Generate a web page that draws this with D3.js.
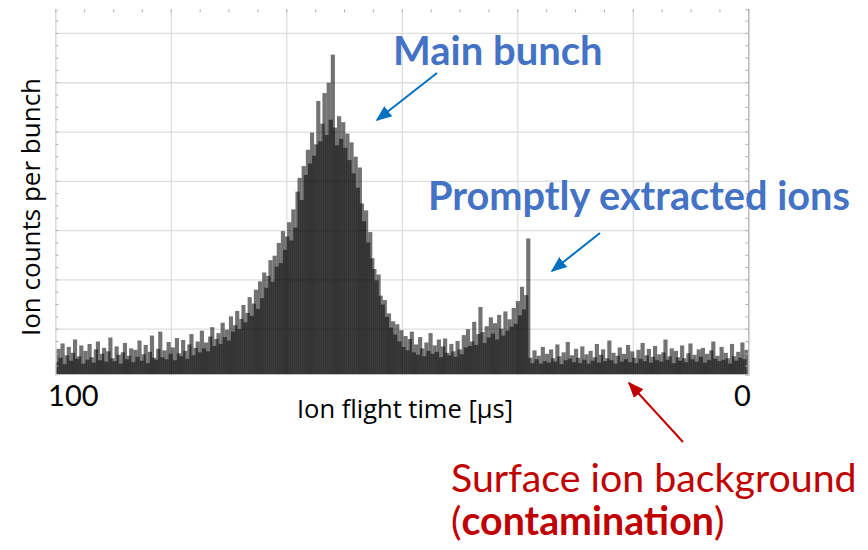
<!DOCTYPE html>
<html>
<head>
<meta charset="utf-8">
<script src="https://cdn.jsdelivr.net/npm/d3@7"></script>
<style>
  body { margin: 0; background: #fff; }
  svg { display: block; font-family: Lato, "Open Sans", sans-serif; }
</style>
</head>
<body>
<svg width="868" height="550"></svg>
<script>
// histogram of ion flight time, bins of 0.3 us running from 100 down to 0
const binStart = 100;
const binWidth = 0.3;
const counts = [
  3.2, 5.9, 4.1, 7.0, 2.8, 4.6, 6.3, 3.5, 5.1, 7.8,
  3.9, 4.4, 6.6, 2.9, 5.5, 3.7, 6.9, 4.2, 3.1, 5.8,
  7.4, 3.6, 4.9, 6.1, 3.3, 5.4, 8.2, 4.0, 3.4, 6.4,
  4.7, 2.9, 5.2, 7.1, 3.8, 4.5, 6.0, 3.2, 5.7, 4.3,
  7.6, 3.5, 4.8, 6.7, 3.0, 5.3, 8.6, 4.1, 3.7, 5.9,
  9.4, 4.2, 5.6, 3.8, 7.3, 4.9, 6.2, 3.6, 8.1, 5.0,
  4.4, 7.7, 5.5, 3.9, 6.8, 8.9, 4.6, 6.1, 7.4, 5.2,
  9.6, 6.0, 7.2, 5.4, 8.4, 10.3, 6.5, 7.9, 9.1, 6.9,
  11.2, 8.3, 9.8, 7.6, 12.5, 9.4, 10.7, 13.6, 9.9, 12.0,
  14.8, 11.3, 13.2, 16.4, 12.6, 15.1, 17.9, 14.0, 19.6, 16.2,
  21.4, 18.3, 20.7, 23.9, 19.5, 24.8, 22.6, 27.4, 23.3, 29.8,
  26.0, 28.7, 31.6, 27.9, 34.2, 30.5, 37.8, 40.6, 36.1, 43.0,
  41.2, 46.3, 43.5, 49.8, 45.1, 47.4, 56.2, 48.0, 51.6, 57.8,
  49.3, 59.9, 52.4, 65.6, 50.8, 47.2, 53.1, 48.5, 51.9, 46.7,
  49.6, 44.2, 47.8, 41.5, 44.9, 38.6, 42.7, 35.4, 31.8, 34.0,
  27.5, 29.6, 24.3, 22.1, 19.8, 21.0, 16.7, 14.9, 15.8, 12.4,
  13.1, 10.2, 11.5, 8.8, 10.9, 7.4, 9.7, 6.3, 8.5, 5.6,
  7.9, 9.4, 5.2, 6.8, 4.7, 8.3, 6.0, 4.4, 7.2, 5.5,
  9.1, 4.9, 6.6, 5.3, 7.8, 4.2, 6.4, 8.0, 5.1, 4.6,
  6.9, 5.4, 4.3, 7.5, 5.8, 4.8, 8.7, 6.2, 9.9, 6.5,
  7.4, 11.4, 6.7, 8.9, 14.4, 9.3, 7.1, 10.5, 8.2, 12.3,
  9.0, 11.1, 7.8, 12.8, 10.0, 8.6, 13.5, 9.6, 11.9, 10.4,
  14.2, 11.0, 15.6, 12.7, 18.5, 13.9, 16.8, 28.3, 4.1, 3.0,
  5.6, 3.8, 4.5, 2.9, 6.3, 3.4, 4.9, 3.1, 5.8, 4.0,
  3.3, 6.8, 4.4, 2.8, 5.2, 3.6, 7.3, 3.9, 4.6, 3.2,
  5.9, 4.1, 3.0, 6.4, 3.7, 4.8, 2.9, 5.5, 3.5, 4.2,
  6.9, 3.1, 4.7, 5.8, 3.4, 4.0, 7.6, 3.6, 5.1, 2.9,
  4.5, 6.2, 3.3, 4.9, 3.8, 6.7, 3.2, 5.4, 4.1, 3.0,
  5.7, 3.9, 7.1, 3.4, 4.6, 5.9, 3.1, 4.3, 6.5, 3.6,
  4.8, 3.3, 5.2, 7.8, 3.7, 4.4, 6.0, 3.0, 5.5, 4.2,
  3.5, 6.6, 4.0, 3.2, 5.0, 7.0, 3.8, 4.7, 3.3, 5.8,
  4.3, 6.1, 3.1, 4.9, 3.6, 5.6, 7.4, 3.9, 4.5, 3.4,
  6.3, 3.7, 5.1, 4.0, 2.9, 6.9, 4.4, 3.5, 5.3, 4.1,
  7.2, 3.8, 5.7
];
const yGrid = [10, 20, 30, 40, 50, 60, 70];
const xEndLabels = [100, 0];

const svg = d3.select("svg");
const plot = { left: 55.3, right: 748.3, top: 9.3, bottom: 374.5 };

const x = d3.scaleLinear().domain([binStart, 0]).range([plot.left, plot.right]);
const y = d3.scaleLinear().domain([0.7, 74.8]).range([plot.bottom, plot.top]);

const xMajor = d3.range(7).map(k => binStart - k * binStart / 6);
const xMinor = d3.range(25).map(k => binStart - k * binStart / 24);
const yMinor = d3.range(1, 30).map(k => k * 2.5);

const gridColor = "#dedede";

// grid
svg.append("g")
  .attr("transform", `translate(0,${plot.bottom})`)
  .call(d3.axisBottom(x).tickValues(xMajor).tickSize(-(plot.bottom - plot.top)).tickFormat(""))
  .call(g => g.select(".domain").remove())
  .call(g => g.selectAll("line").attr("stroke", gridColor).attr("stroke-width", 1.3));

svg.append("g")
  .attr("transform", `translate(${plot.left},0)`)
  .call(d3.axisLeft(y).tickValues(yGrid).tickSize(-(plot.right - plot.left)).tickFormat(""))
  .call(g => g.select(".domain").remove())
  .call(g => g.selectAll("line").attr("stroke", gridColor).attr("stroke-width", 1.3));

// histogram bars: each bar spans two bins and is half transparent,
// so the overlaps read dark and the lone tips read light grey
svg.append("clipPath").attr("id", "plotClip")
  .append("rect")
  .attr("x", plot.left).attr("y", plot.top)
  .attr("width", plot.right - plot.left).attr("height", plot.bottom - plot.top);

const step = x(binStart - binWidth) - x(binStart);
svg.append("g")
  .attr("clip-path", "url(#plotClip)")
  .selectAll("rect")
  .data(counts)
  .join("rect")
  .attr("x", (d, i) => x(binStart - i * binWidth) - step / 2)
  .attr("y", d => y(d))
  .attr("width", step * 2)
  .attr("height", d => y(0.7) - y(d))
  .attr("fill", "#000")
  .attr("fill-opacity", 0.55);

// frame ticks
const tickColor = "#b0b0b0";
svg.append("g")
  .attr("transform", `translate(${plot.left},0)`)
  .call(d3.axisLeft(y).tickValues(yMinor).tickSize(-3).tickFormat(""))
  .call(g => g.select(".domain").attr("stroke", gridColor).attr("stroke-width", 1.3))
  .call(g => g.selectAll("line").attr("stroke", tickColor));

svg.append("g")
  .attr("transform", `translate(${plot.right},0)`)
  .call(d3.axisRight(y).tickValues(yMinor).tickSize(-3).tickFormat(""))
  .call(g => g.select(".domain").attr("stroke", "#b8b8b8").attr("stroke-width", 1.3))
  .call(g => g.selectAll("line").attr("stroke", tickColor));

svg.append("g")
  .attr("transform", `translate(0,${plot.top})`)
  .call(d3.axisTop(x).tickValues(xMinor).tickSize(-3).tickFormat(""))
  .call(g => g.select(".domain").remove())
  .call(g => g.selectAll("line").attr("stroke", tickColor));

// axis end labels
svg.append("g")
  .selectAll("text")
  .data(xEndLabels)
  .join("text")
  .attr("x", d => d === binStart ? x(d) + 18 : x(d) - 6)
  .attr("y", 406)
  .attr("text-anchor", "middle")
  .attr("font-size", 29)
  .attr("fill", "#000")
  .text(d => d);

svg.append("text")
  .attr("x", 405).attr("y", 418)
  .attr("text-anchor", "middle")
  .attr("font-family", "'Open Sans', sans-serif")
  .attr("font-size", 25.5)
  .text("Ion flight time [µs]");

svg.append("text")
  .attr("transform", "translate(40,207) rotate(-90)")
  .attr("text-anchor", "middle")
  .attr("font-family", "'Open Sans', sans-serif")
  .attr("font-size", 26)
  .text("Ion counts per bunch");

// annotations
const defs = svg.append("defs");
function marker(id, color) {
  defs.append("marker")
    .attr("id", id)
    .attr("viewBox", "0 0 10 10")
    .attr("refX", 9).attr("refY", 5)
    .attr("markerWidth", 8).attr("markerHeight", 8)
    .attr("markerUnits", "strokeWidth")
    .attr("orient", "auto")
    .append("path")
    .attr("d", "M0,1 L10,5 L0,9 Z")
    .attr("fill", color);
}
marker("arrowBlue", "#0070c0");
marker("arrowRed", "#c00000");

function arrow(x1, y1, x2, y2, color, id) {
  svg.append("line")
    .attr("x1", x1).attr("y1", y1).attr("x2", x2).attr("y2", y2)
    .attr("stroke", color).attr("stroke-width", 2)
    .attr("marker-end", `url(#${id})`);
}
arrow(437, 73, 377, 120, "#0070c0", "arrowBlue");
arrow(600, 233, 552, 271, "#0070c0", "arrowBlue");
arrow(683, 442, 629, 383, "#c00000", "arrowRed");

svg.append("text")
  .attr("x", 393).attr("y", 65)
  .attr("font-size", 40).attr("font-weight", "bold")
  .attr("fill", "#4472c4")
  .text("Main bunch");

svg.append("text")
  .attr("x", 428).attr("y", 210)
  .attr("font-size", 39.7).attr("font-weight", "bold")
  .attr("fill", "#4472c4")
  .text("Promptly extracted ions");

svg.append("text")
  .attr("x", 451).attr("y", 492)
  .attr("font-size", 39.3)
  .attr("fill", "#c00000")
  .text("Surface ion background");

const cont = svg.append("text")
  .attr("x", 451).attr("y", 535)
  .attr("font-size", 39.3)
  .attr("fill", "#c00000");
cont.append("tspan").text("(");
cont.append("tspan").attr("font-weight", "bold").text("contamination");
cont.append("tspan").text(")");
</script>
</body>
</html>
